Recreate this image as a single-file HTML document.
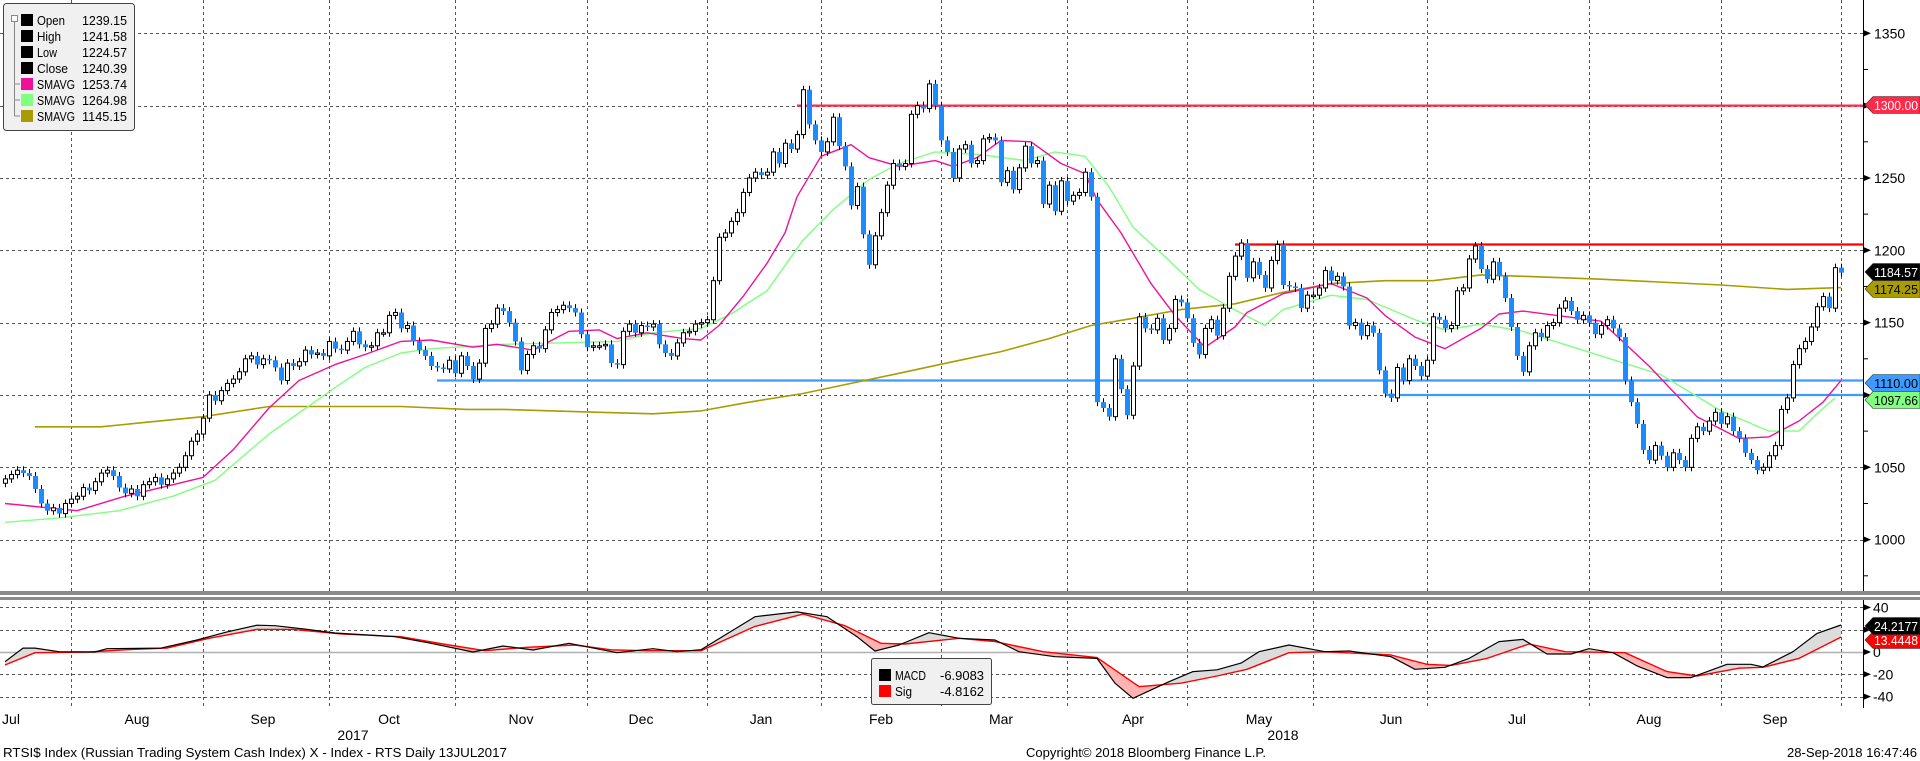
<!DOCTYPE html>
<html><head><meta charset="utf-8"><title>RTSI$ Index</title>
<style>
html,body{margin:0;padding:0;background:#fff;}
svg{display:block;font-family:"Liberation Sans",sans-serif;}
</style></head>
<body>
<svg id="chart" width="1920" height="761" viewBox="0 0 1920 761" xmlns="http://www.w3.org/2000/svg">
<defs>
<clipPath id="mainClip"><rect x="0" y="0" width="1863" height="591"/></clipPath>
<clipPath id="macdClip"><rect x="0" y="601" width="1863" height="107"/></clipPath>
</defs>
<g id="grid"></g>
<g id="levels"></g>
<g id="mas" clip-path="url(#mainClip)"></g>
<g id="candles" clip-path="url(#mainClip)"></g>
<g id="macd" clip-path="url(#macdClip)"></g>
<g id="axes"></g>
<g id="legend"></g>
</svg>
<script>
const closes=[1042,1045,1048,1046,1044,1035,1025,1020,1022,1018,1025,1028,1030,1036,1034,1040,1046,1048,1044,1036,
1032,1035,1030,1038,1040,1043,1038,1042,1046,1050,1058,1068,1073,1084,1100,1096,1103,1108,1111,1116,
1125,1127,1121,1125,1124,1119,1110,1122,1120,1123,1131,1128,1129,1127,1137,1132,1131,1137,1144,1135,
1133,1134,1143,1143,1155,1157,1146,1148,1137,1131,1127,1120,1119,1118,1124,1115,1127,1120,1111,1122,
1146,1149,1160,1158,1150,1137,1117,1128,1134,1132,1145,1157,1159,1162,1160,1157,1142,1133,1134,1134,
1135,1122,1121,1144,1149,1143,1148,1147,1149,1135,1129,1127,1136,1143,1144,1149,1150,1152,1179,1209,
1212,1220,1226,1240,1250,1254,1252,1254,1268,1260,1274,1270,1280,1311,1287,1276,1268,1275,1292,1272,
1258,1231,1244,1211,1190,1210,1226,1245,1260,1258,1260,1294,1300,1298,1315,1300,1276,1268,1250,1270,
1273,1260,1262,1277,1278,1276,1247,1255,1242,1257,1272,1260,1262,1232,1245,1227,1248,1234,1238,1240,
1254,1237,1095,1091,1085,1125,1104,1086,1120,1154,1146,1145,1153,1138,1146,1166,1164,1153,1136,1128,
1146,1152,1141,1160,1182,1196,1205,1181,1192,1183,1174,1193,1204,1176,1175,1174,1160,1169,1169,1174,
1186,1179,1182,1175,1148,1150,1141,1148,1143,1117,1101,1098,1119,1110,1125,1120,1113,1124,1154,1152,
1146,1148,1172,1174,1194,1203,1187,1180,1192,1182,1167,1147,1127,1116,1134,1143,1140,1148,1150,1160,
1165,1158,1152,1155,1150,1142,1148,1152,1146,1140,1110,1095,1080,1062,1055,1065,1058,1050,1060,1055,
1050,1070,1078,1075,1082,1088,1080,1085,1075,1070,1060,1055,1048,1050,1058,1065,1090,1098,1121,1132,
1137,1147,1161,1168,1160,1188,1184.57];
const pinkIdx=[0,12,20,28,33,38,44,49,55,60,66,71,78,82,88,94,99,102,107,113,116,119,123,127,130,132,136,141,144,149,155,158,162,166,171,176,180,182,186,191,195,200,205,207,213,221,227,230,235,240,246,249,253,266,274,282,289,294,299,303,306];
const pinkVals=[1025,1020,1030,1038,1043,1062,1091,1110,1121,1128,1137,1138,1133,1135,1131,1144,1145,1139,1143,1139,1138,1148,1168,1191,1212,1237,1265,1273,1264,1258,1262,1258,1264,1276,1275,1260,1253,1235,1212,1177,1155,1133,1147,1157,1170,1177,1167,1155,1140,1132,1146,1156,1158,1151,1120,1085,1070,1071,1082,1095,1110];
const greenIdx=[0,9,19,28,35,44,55,60,66,71,83,102,108,116,121,127,133,138,144,149,155,163,170,175,180,184,188,194,199,204,210,213,221,227,235,240,246,253,266,276,286,294,299,302,305];
const greenVals=[1012,1015,1020,1030,1041,1073,1105,1119,1129,1132,1135,1137,1143,1146,1156,1172,1207,1228,1249,1260,1268,1266,1262,1268,1265,1244,1216,1193,1173,1161,1148,1159,1169,1166,1152,1145,1149,1144,1127,1114,1089,1075,1075,1087,1098];
const oliveIdx=[5,16,33,44,66,77,83,99,108,116,124,133,141,149,158,166,174,181,188,196,205,213,221,230,238,246,253,266,286,297,306];
const oliveVals=[1078,1078,1085,1092,1092,1090,1090,1088,1087,1089,1095,1101,1108,1115,1123,1130,1139,1148,1153,1159,1163,1171,1177,1179,1179,1183,1182,1180,1176,1173,1174.25];
const macdIdx=[0,3,5,9,15,17,26,32,37,42,45,50,55,65,71,78,83,88,94,102,108,112,116,125,132,137,142,145,149,154,159,165,169,175,182,185,188,194,198,202,206,209,214,220,224,231,235,240,244,249,253,257,261,264,268,272,277,281,287,291,293,298,302,306];
const macdVals=[-8.7,3.5,3.5,0.3,0,3,3.5,10.8,18,24,23.6,20.5,17,13.7,7.8,0,5.4,1.8,7.8,-0.6,3,0.3,2.1,31.7,36,31.7,13.7,0.9,6.3,17.3,12.3,10.8,0.3,-4.2,-5.7,-28,-41.5,-26.6,-17.6,-16,-10,0.3,6.3,0.3,0.9,-4.2,-15.5,-13.7,-5.7,9.3,11.3,-1.8,-1.8,3,-0.6,-12.5,-23,-23,-11,-11,-13.4,0.3,16.7,24.2];
const sigIdx=[0,5,14,20,27,34,42,48,56,66,73,80,87,95,101,107,116,125,133,140,146,150,159,165,173,182,189,196,202,207,214,220,231,237,241,247,254,260,270,277,282,289,293,299,306];
const sigVals=[-11.7,-0.6,0,2,3.5,12.3,20.3,20.3,16.2,13.7,7.2,1.2,4.2,6.3,2,1.2,1.2,23,34,23.6,7.8,7.2,12.3,9.3,0.3,-5,-31,-28,-21.5,-15.5,-0.6,0.3,-2.7,-11,-12,-5.7,7.2,0.3,-0.6,-17.6,-21.5,-14.5,-13.7,-5.7,13.4];
const priceTicks=[1350,1300,1250,1200,1150,1100,1050,1000];
const macdTicks=[40,20,0,-20,-40];
const monthLabels=["Jul","Aug","Sep","Oct","Nov","Dec","Jan","Feb","Mar","Apr","May","Jun","Jul","Aug","Sep"];
const monthIdx=[1,22,43,64,86,106,126,146,166,188,209,231,252,274,295];
const yearLabels=["2017","2018"];
const yearIdx=[58,213];
const gridIdx=[11,33,54,75,97,117,136,156,177,197,218,237,264,286,306];
const levelVals=[1300,1204,1110,1100];
const levelStart=[132,205,72,230];
const levelColors=["#ff2a4a","#ff0000","#3d9bff","#3d9bff"];

const NS="http://www.w3.org/2000/svg";
const X=i=>5+i*6;
const Y=v=>33.3+(1350-v)*1.4467;
const MY=v=>652-v*1.115;
function mk(tag,attrs,parent,text){const e=document.createElementNS(NS,tag);for(const k in attrs)e.setAttribute(k,attrs[k]);if(text!==undefined)e.textContent=text;parent.appendChild(e);return e;}
const grid=document.getElementById('grid'),levels=document.getElementById('levels'),mas=document.getElementById('mas'),cg=document.getElementById('candles'),mg=document.getElementById('macd'),ax=document.getElementById('axes'),lg=document.getElementById('legend');
const dash={stroke:"#555","stroke-width":1,"stroke-dasharray":"3,3"};

gridIdx.forEach(i=>{
  const gx=Math.round(X(i))+0.5;
  let l=mk('line',Object.assign({x1:gx,x2:gx,y1:0,y2:591},dash),grid);
  
  
  l=mk('line',Object.assign({x1:gx,x2:gx,y1:601,y2:708},dash),grid);
  
  
});
priceTicks.forEach(v=>{
  const gy=Math.round(Y(v))+0.5;
  const l=mk('line',Object.assign({x1:0,x2:1863,y1:gy,y2:gy},dash),grid);
  
  
});
macdTicks.forEach(v=>{
  const gy=Math.round(MY(v))+0.5;
  const st=v===0?{stroke:"#b0b0b0","stroke-width":1.5}:dash;
  const l=mk('line',Object.assign({x1:0,x2:1863,y1:gy,y2:gy},st),grid);
  
  
});

levelVals.forEach((v,k)=>{
  const l=mk('line',{x1:X(levelStart[k]),x2:1863,y1:Y(v),y2:Y(v),stroke:levelColors[k],"stroke-width":2.2},levels);
  
  
});

function line(idx,vals,yf,color,w,parent,name){
  const pts=idx.map((i,k)=>X(i).toFixed(1)+","+yf(vals[k]).toFixed(1)).join(" ");
  const p=mk('polyline',{points:pts,fill:"none",stroke:color,"stroke-width":w,"stroke-linejoin":"round"},parent);
  
  
  return p;
}
line(oliveIdx,oliveVals,Y,"#a89c00",1.6,mas,'sma-olive-line');
line(greenIdx,greenVals,Y,"#80ff80",1.4,mas,'sma-green-line');
line(pinkIdx,pinkVals,Y,"#ee119a",1.4,mas,'sma-pink-line');

closes.forEach((c,i)=>{
  const o=i===0?c-3:closes[i-1];
  const x=X(i);
  const top=Y(Math.max(o,c)),bot=Y(Math.min(o,c));
  const up=c>=o;
  const w=mk('line',{x1:x+0.5,x2:x+0.5,y1:top-4,y2:bot+4,stroke:"#000","stroke-width":1},cg);
  
  
  const h=Math.max(bot-top,1.5);
  const r=up?mk('rect',{x:x-1.5,y:top,width:4,height:h,fill:"#fff",stroke:"#000","stroke-width":1},cg)
            :mk('rect',{x:x-2,y:top,width:5,height:h,fill:"#1a8cff"},cg);
  
  
});

const macdPts=macdIdx.map((i,k)=>[X(i),MY(macdVals[k])]);
const sigPts=sigIdx.map((i,k)=>[X(i),MY(sigVals[k])]);
const ptsStr=a=>a.map(p=>p[0].toFixed(1)+","+p[1].toFixed(1)).join(" ");
const defs=document.querySelector('defs');
const ca=mk('clipPath',{id:'aboveSig'},defs);
mk('polygon',{points:ptsStr(sigPts)+" "+X(306)+",600 "+X(0)+",600"},ca);
const cb=mk('clipPath',{id:'belowSig'},defs);
mk('polygon',{points:ptsStr(sigPts)+" "+X(306)+",710 "+X(0)+",710"},cb);
const band=ptsStr(macdPts)+" "+ptsStr(sigPts.slice().reverse());
let f=mk('polygon',{points:band,fill:"#dcdcdc","clip-path":"url(#aboveSig)"},mg);


f=mk('polygon',{points:band,fill:"#ffb3b3","clip-path":"url(#belowSig)"},mg);


line(sigIdx,sigVals,MY,"#ff0000",1.4,mg,'signal-line');
line(macdIdx,macdVals,MY,"#000",1.2,mg,'macd-line');

let e=mk('rect',{x:0,y:591,width:1920,height:4,fill:"#8a8a8a"},ax);


e=mk('rect',{x:0,y:597,width:1920,height:3,fill:"#8a8a8a"},ax);


e=mk('line',{x1:1863.5,x2:1863.5,y1:0,y2:591,stroke:"#000","stroke-width":1},ax);


e=mk('line',{x1:1863.5,x2:1863.5,y1:600,y2:708,stroke:"#000","stroke-width":1},ax);


priceTicks.forEach(v=>{
  const y=Y(v);
  mk('polygon',{points:`1864,${y-3} 1871,${y} 1864,${y+3}`,fill:"#000"},ax);
  const t=mk('text',{x:1874,y:y+5,"font-size":14,fill:"#000"},ax,String(v));
  
  
  const m=Y(v-25);
  mk('line',{x1:1863,x2:1868,y1:m,y2:m,stroke:"#000"},ax);
});
macdTicks.forEach(v=>{
  const y=MY(v);
  mk('polygon',{points:`1864,${y-3} 1871,${y} 1864,${y+3}`,fill:"#000"},ax);
  const t=mk('text',{x:1873,y:y+5,"font-size":14,fill:"#000"},ax,String(v));
  
  
});
function tag(yc,txt,bg,fg,name){
  const g=mk('g',{},ax);
  
  
  mk('polygon',{points:`1865,${yc} 1873,${yc-8.5} 1920,${yc-8.5} 1920,${yc+8.5} 1873,${yc+8.5}`,fill:bg,stroke:"#333","stroke-width":0.6},g);
  mk('text',{x:1874,y:yc+5,"font-size":13,fill:fg,textLength:44,lengthAdjust:"spacingAndGlyphs"},g,txt);
}
tag(105,"1300.00","#ff2a4a","#fff",'tag-1300');
tag(289,"1174.25","#a89c00","#000",'tag-sma-olive');
tag(272,"1184.57","#000","#fff",'tag-last-price');
tag(383,"1110.00","#3d9bff","#000",'tag-1110');
tag(400,"1097.66","#80ff80","#000",'tag-sma-green');
tag(640,"13.4448","#ff0000","#fff",'tag-signal');
tag(626,"24.2177","#000","#fff",'tag-macd');

monthLabels.forEach((m,k)=>{
  const t=mk('text',{x:X(monthIdx[k]),y:724,"font-size":14,"text-anchor":"middle",fill:"#000"},ax,m);
  
  
});
yearLabels.forEach((m,k)=>{
  const t=mk('text',{x:X(yearIdx[k]),y:740,"font-size":14,"text-anchor":"middle",fill:"#000"},ax,m);
  
  
});
e=mk('text',{x:3,y:757,"font-size":13,fill:"#000",textLength:504,lengthAdjust:"spacingAndGlyphs"},ax,"RTSI$ Index (Russian Trading System Cash Index) X - Index - RTS  Daily 13JUL2017");


e=mk('text',{x:1026,y:757,"font-size":13,fill:"#000",textLength:240,lengthAdjust:"spacingAndGlyphs"},ax,"Copyright© 2018 Bloomberg Finance L.P.");


e=mk('text',{x:1787,y:757,"font-size":13,fill:"#000",textLength:130,lengthAdjust:"spacingAndGlyphs"},ax,"28-Sep-2018 16:47:46");



const lgBox=mk('rect',{x:3.5,y:3.5,width:131,height:127,rx:3,fill:"#f0f0f0",stroke:"#444","stroke-width":1},lg);


mk('rect',{x:11.5,y:15.5,width:6,height:6,fill:"#fff",stroke:"#888"},lg);
mk('line',{x1:14.5,x2:14.5,y1:22,y2:116,stroke:"#888"},lg);
const legNames=["Open","High","Low","Close","SMAVG","SMAVG","SMAVG"];
const legVals=["1239.15","1241.58","1224.57","1240.39","1253.74","1264.98","1145.15"];
const legCols=["#000","#000","#000","#000","#ee119a","#80ff80","#a89c00"];
const legW=[28,24,20,31,38,38,38];
legNames.forEach((n,k)=>{
  const y=20+k*16;
  const g=mk('g',{},lg);
  
  
  if(k>=4) mk('line',{x1:14.5,x2:20,y1:y,y2:y,stroke:"#888"},g);
  mk('rect',{x:21,y:y-6,width:12,height:12,fill:legCols[k]},g);
  mk('text',{x:37,y:y+5,"font-size":12.5,fill:"#000",textLength:legW[k],lengthAdjust:"spacingAndGlyphs"},g,n);
  mk('text',{x:82,y:y+5,"font-size":12.5,fill:"#000",textLength:45,lengthAdjust:"spacingAndGlyphs"},g,legVals[k]);
});

const mb=mk('rect',{x:871.5,y:658.5,width:120,height:46,rx:2,fill:"#f0f0f0",stroke:"#444"},lg);


[["MACD","-6.9083","#000",31],["Sig","-4.8162","#ff0000",17]].forEach((r,k)=>{
  const y=675+k*16;
  const g=mk('g',{},lg);
  
  
  mk('rect',{x:879,y:y-6,width:12,height:12,fill:r[2]},g);
  mk('text',{x:895,y:y+5,"font-size":13,fill:"#000",textLength:r[3],lengthAdjust:"spacingAndGlyphs"},g,r[0]);
  mk('text',{x:940,y:y+5,"font-size":13,fill:"#000",textLength:44,lengthAdjust:"spacingAndGlyphs"},g,r[1]);
});
</script>
</body></html>
